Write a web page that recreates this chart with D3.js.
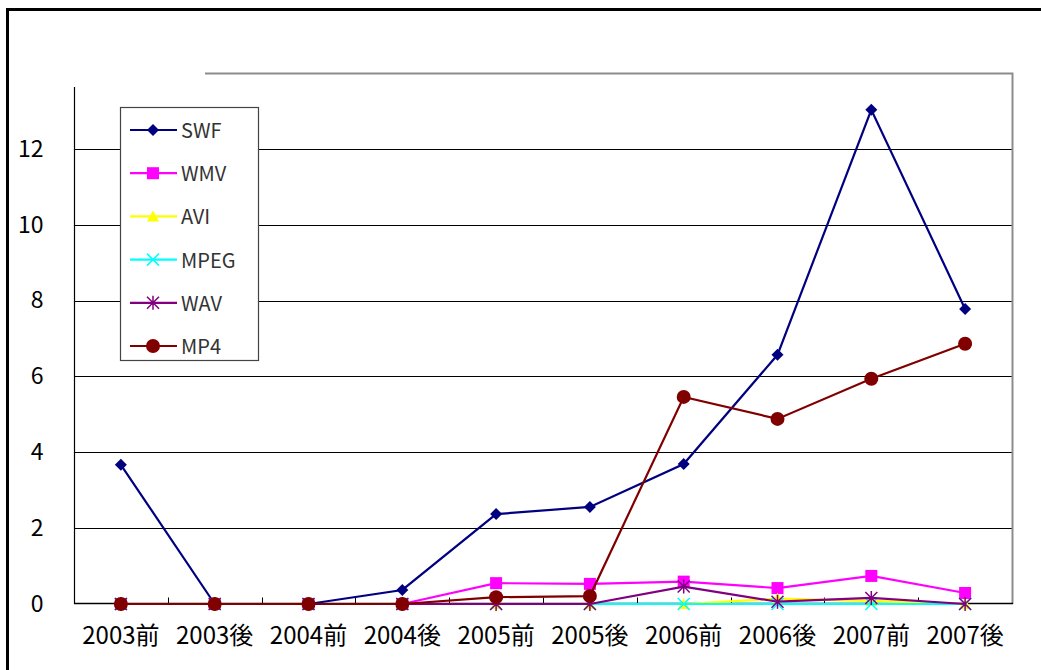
<!DOCTYPE html>
<html lang="ja">
<head>
<meta charset="utf-8">
<title>SWF / WMV / AVI / MPEG / WAV / MP4</title>
<style>
  body { margin: 0; background: #fff; }
  svg text { font-family: "Noto Sans CJK JP", "DejaVu Sans", sans-serif; }
</style>
</head>
<body>
<div id="container"></div>
<script src="https://cdnjs.cloudflare.com/ajax/libs/d3/7.8.5/d3.min.js"></script>
<script>

var width = 1041, height = 670;

// ------ data --------
var periods = ["2003前","2003後","2004前","2004後","2005前","2005後","2006前","2006後","2007前","2007後"];
var swf  = [3.67, 0, 0, 0.37, 2.37, 2.56, 3.69, 6.57, 13.03, 7.78];
var wmv  = [0, 0, 0, 0, 0.55, 0.53, 0.59, 0.42, 0.74, 0.29];
var avi  = [0, 0, 0, 0, 0, 0, 0, 0.14, 0.08, 0];
var mpeg = [0, 0, 0, 0, 0, 0, 0, 0, 0, 0];
var wav  = [0, 0, 0, 0, 0, 0, 0.46, 0.06, 0.16, 0];
var mp4  = [0, 0, 0, 0, 0.18, 0.21, 5.46, 4.88, 5.94, 6.86];
var yTicks = [0, 2, 4, 6, 8, 10, 12];
// --------------------

var series = [
  {name: "SWF",  values: swf,  color: "#000080", marker: "diamond"},
  {name: "WMV",  values: wmv,  color: "#ff00ff", marker: "square"},
  {name: "AVI",  values: avi,  color: "#ffff00", marker: "triangle"},
  {name: "MPEG", values: mpeg, color: "#00ffff", marker: "x"},
  {name: "WAV",  values: wav,  color: "#800080", marker: "star"},
  {name: "MP4",  values: mp4,  color: "#800000", marker: "circle"}
];

var plot = {left: 74, right: 1012, top: 73, bottom: 604};

var x = d3.scaleBand().domain(periods).range([plot.left, plot.right]);
var y = d3.scaleLinear().domain([0, 14]).range([plot.bottom, plot.top]);

var svg = d3.select("#container").append("svg")
    .attr("width", width)
    .attr("height", height);

// outer frame (only top and left edges fall inside the picture)
svg.append("path")
    .attr("d", "M7.5," + height + "V9.5H" + width)
    .attr("fill", "none").attr("stroke", "#000").attr("stroke-width", 3);

// gridlines
svg.append("g").selectAll("line")
    .data(yTicks.filter(function(d){ return d > 0; }))
  .enter().append("line")
    .attr("x1", plot.left).attr("x2", plot.right)
    .attr("y1", function(d){ return Math.round(y(d)) + 0.5; })
    .attr("y2", function(d){ return Math.round(y(d)) + 0.5; })
    .attr("stroke", "#000").attr("stroke-width", 1.2);

// plot border: top (partial) + right, gray
svg.append("path")
    .attr("d", "M205," + (plot.top + 0.5) + "H" + (plot.right + 0.5) + "V" + plot.bottom)
    .attr("fill", "none").attr("stroke", "#8c8c8c").attr("stroke-width", 2);

// y axis
var yAxis = d3.axisLeft(y).tickValues(yTicks).tickSize(0).tickPadding(31);
var gy = svg.append("g").attr("transform", "translate(" + (plot.left + 0.5) + ",0)").call(yAxis);
gy.select(".domain").remove();
gy.selectAll("text").attr("font-size", 23).attr("fill", "#000").attr("font-family", null);
svg.append("line")
    .attr("x1", plot.left + 0.5).attr("x2", plot.left + 0.5)
    .attr("y1", 87).attr("y2", plot.bottom)
    .attr("stroke", "#000").attr("stroke-width", 1.2);

// x axis with inner ticks at category boundaries
var gx = svg.append("g").attr("transform", "translate(0," + (plot.bottom - 0.5) + ")");
gx.append("line").attr("x1", plot.left).attr("x2", plot.right + 1)
    .attr("stroke", "#000").attr("stroke-width", 1.5);
gx.selectAll(".tk").data(periods.slice(1))
  .enter().append("line")
    .attr("class", "tk")
    .attr("x1", function(d){ return Math.round(x(d)) + 0.5; })
    .attr("x2", function(d){ return Math.round(x(d)) + 0.5; })
    .attr("y1", 0).attr("y2", -6)
    .attr("stroke", "#000");
gx.selectAll(".lbl").data(periods)
  .enter().append("text")
    .attr("class", "lbl")
    .attr("x", function(d){ return x(d) + x.bandwidth() / 2; })
    .attr("y", 40)
    .attr("text-anchor", "middle")
    .attr("font-size", 24)
    .text(function(d){ return d; });

// markers
function marker(sel, type, color) {
  if (type === "diamond") {
    sel.append("path").attr("d", "M0,-6L6,0L0,6L-6,0Z").attr("fill", color);
  } else if (type === "square") {
    sel.append("rect").attr("x", -6).attr("y", -6).attr("width", 12).attr("height", 12).attr("fill", color);
  } else if (type === "triangle") {
    sel.append("path").attr("d", "M0,-6L6,5L-6,5Z").attr("fill", color);
  } else if (type === "x") {
    sel.append("path").attr("d", "M-6,-6L6,6M-6,6L6,-6").attr("stroke", color).attr("stroke-width", 1.5);
  } else if (type === "star") {
    sel.append("path").attr("d", "M-6,-6L6,6M-6,6L6,-6M0,-7V7").attr("stroke", color).attr("stroke-width", 1.5);
  } else if (type === "circle") {
    sel.append("circle").attr("r", 7).attr("fill", color);
  }
}

var line = d3.line()
    .x(function(d, i){ return x(periods[i]) + x.bandwidth() / 2; })
    .y(function(d){ return y(d); });

series.forEach(function(s){
  var g = svg.append("g");
  g.append("path")
      .attr("d", line(s.values))
      .attr("fill", "none")
      .attr("stroke", s.color)
      .attr("stroke-width", 2.2);
  g.selectAll("g").data(s.values)
    .enter().append("g")
      .attr("transform", function(d, i){
        return "translate(" + (x(periods[i]) + x.bandwidth() / 2) + "," + y(d) + ")";
      })
      .each(function(){ marker(d3.select(this), s.marker, s.color); });
});

// legend
var legend = svg.append("g").attr("transform", "translate(120,107)");
legend.append("rect")
    .attr("x", 0.5).attr("y", 0.5).attr("width", 138).attr("height", 253)
    .attr("fill", "#fff").attr("stroke", "#444").attr("stroke-width", 1.2);
var item = legend.selectAll(".item").data(series)
  .enter().append("g")
    .attr("class", "item")
    .attr("transform", function(d, i){ return "translate(0," + (23 + i * 43.2) + ")"; });
item.append("line")
    .attr("x1", 10).attr("x2", 57)
    .attr("stroke", function(d){ return d.color; })
    .attr("stroke-width", 2.2);
item.append("g").attr("transform", "translate(33,0)")
    .each(function(d){ marker(d3.select(this), d.marker, d.color); });
item.append("text")
    .attr("x", 61).attr("y", 8)
    .attr("font-size", 20)
    .attr("fill", "#333")
    .text(function(d){ return d.name; });

</script>
</body>
</html>
